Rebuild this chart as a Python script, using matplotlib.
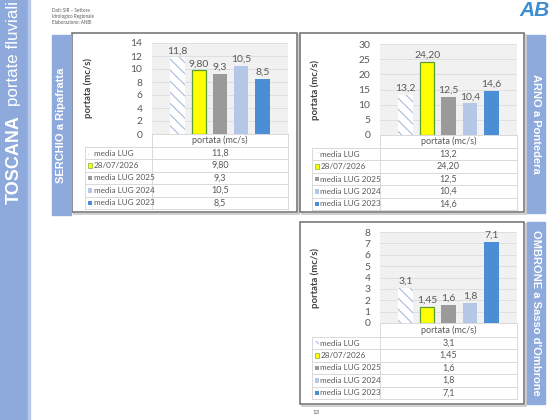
import numpy as np
import matplotlib
matplotlib.use('Agg')
import matplotlib.pyplot as plt
from matplotlib.patches import Rectangle

# Dati (portate medie in mc/s)
serie = ["media LUG", "28/07/2026", "media LUG 2025", "media LUG 2024", "media LUG 2023"]
decimali = [1, 2, 1, 1, 1]
serchio = [11.8, 9.80, 9.3, 10.5, 8.5]
arno = [13.2, 24.20, 12.5, 10.4, 14.6]
ombrone = [3.1, 1.45, 1.6, 1.8, 7.1]
stazioni = ["SERCHIO a Ripafratta", "ARNO a Pontedera", "OMBRONE a Sasso d'Ombrone"]
y_max = [14, 30, 8]
y_passo = [2, 5, 1]
categoria = "portata (mc/s)"
etichetta_y = "portata (mc/s)"

# Stile
colori = ['white', '#FFFF00', '#9A9A9A', '#B4C7E7', '#4C8ED6']
bordi = ['#A6BCDC', '#5E9A35', '#9A9A9A', '#B4C7E7', '#4C8ED6']
azzurro = '#8EA9DB'
grigio_testo = '#595959'
font_grafico = 'Lato'
font_titolo = 'Liberation Sans'
plt.rcParams['hatch.linewidth'] = 0.8

W, H = 560, 420
fig = plt.figure(figsize=(W / 100, H / 100), dpi=100)
tela = fig.add_axes([0, 0, 1, 1])
tela.set_xlim(0, W)
tela.set_ylim(H, 0)
tela.axis('off')


def fmt(v, d):
    return ('{:.%df}' % d).format(v).replace('.', ',')


def box_fig(x0, y0, x1, y1):
    return [x0 / W, 1 - y1 / H, (x1 - x0) / W, (y1 - y0) / H]


# Banda laterale con il titolo
tela.add_patch(Rectangle((0, 0), 28, H, color=azzurro, zorder=1))
tela.add_patch(Rectangle((28, 0), 1.5, H, color='#B8C9E8', zorder=1))
tela.text(14, 204, "TOSCANA", rotation=90, ha='center', va='bottom', color='white',
          fontsize=13, fontweight='bold', family=font_titolo)
tela.text(14, 106, "portate fluviali", rotation=90, ha='center', va='bottom', color='white',
          fontsize=12.2, family=font_titolo)

# Fonte dati
tela.text(52, 8, "Dati: SIR – Settore\nIdrologico Regionale\nElaborazione: ANBI", ha='left', va='top',
          fontsize=3.3, color=grigio_testo, family=font_grafico, linespacing=1.3)

# Logo (approssimato)
tela.text(535, 10, "AB", ha='center', va='center', fontsize=15, fontweight='bold',
          fontstyle='italic', color='#3C8FD3', family=font_titolo)

# Numero pagina
tela.text(316, 412, "13", ha='center', va='center', fontsize=4.5, color=grigio_testo,
          family=font_grafico)

# Geometria dei pannelli (pixel)
pannelli = [
    dict(dati=serchio, cornice=(72, 33, 297, 212), etichetta=(52, 35, 71, 215), lato='sx',
         plot=(152, 43, 288, 134), tab_x=(85, 152, 288), tab_y=(134, 147, 209), ylab_x=88),
    dict(dati=arno, cornice=(300, 33, 524, 212), etichetta=(527, 35, 545, 213), lato='dx',
         plot=(380, 44, 517, 135), tab_x=(312, 380, 517), tab_y=(135, 148, 210), ylab_x=315),
    dict(dati=ombrone, cornice=(300, 222, 524, 404), etichetta=(527, 222, 545, 404), lato='dx',
         plot=(380, 232, 517, 323), tab_x=(312, 380, 517), tab_y=(323, 337, 399), ylab_x=315),
]

x = np.arange(len(serie))
for i, p in enumerate(pannelli):
    valori = p['dati']

    # cornice e riquadro della stazione
    cx0, cy0, cx1, cy1 = p['cornice']
    tela.add_patch(Rectangle((cx0 + 1.5, cy0 + 1.5), cx1 - cx0, cy1 - cy0, fill=False,
                             ec='#C8C8C8', lw=1.2, zorder=2))
    tela.add_patch(Rectangle((cx0, cy0), cx1 - cx0, cy1 - cy0, fc='white',
                             ec='#6E6E6E', lw=1.1, zorder=3))
    ex0, ey0, ex1, ey1 = p['etichetta']
    tela.add_patch(Rectangle((ex0, ey0), ex1 - ex0, ey1 - ey0, color=azzurro, zorder=3))
    rot = 90 if p['lato'] == 'sx' else -90
    tela.text((ex0 + ex1) / 2, (ey0 + ey1) / 2, stazioni[i], rotation=rot, ha='center',
              va='center', color='white', fontsize=8.0, fontweight='bold',
              family=font_titolo, zorder=4)

    # grafico a colonne
    px0, py0, px1, py1 = p['plot']
    ax = fig.add_axes(box_fig(px0, py0, px1, py1))
    ax.set_facecolor('#F1F1F1')
    for j, v in enumerate(valori):
        if j == 0:
            ax.bar(x[j], v, width=0.68, color='white', edgecolor=bordi[j], hatch='\\\\\\',
                   linewidth=0, zorder=3)
        else:
            ax.bar(x[j], v, width=0.68, color=colori[j], edgecolor=bordi[j],
                   linewidth=0.9 if j == 1 else 0, zorder=3)
        ax.annotate(fmt(v, decimali[j]), (x[j], v), xytext=(0, 1.5), textcoords='offset points',
                    ha='center', va='bottom', fontsize=7.5, color=grigio_testo,
                    family=font_grafico, zorder=4)
    ax.set_xlim(-1.2, 5.2)
    ax.set_ylim(0, y_max[i])
    ax.set_yticks(np.arange(0, y_max[i] + 0.1, y_passo[i]))
    ax.set_yticklabels([str(int(t)) for t in ax.get_yticks()], family=font_grafico)
    ax.set_xticks([])
    ax.tick_params(axis='y', length=0, pad=7, labelsize=7.4, labelcolor=grigio_testo)
    ax.grid(axis='y', color='#DCDCDC', linewidth=0.6, zorder=0)
    for s in ax.spines.values():
        s.set_visible(False)

    tela.text(p['ylab_x'], (py0 + py1) / 2, etichetta_y, rotation=90, ha='center', va='center',
              fontsize=6.8, fontweight='bold', color='#404040', family=font_grafico, zorder=4)

    # tabella dati
    tx0, tdiv, tx1 = p['tab_x']
    hy0, hy1, tyb = p['tab_y']
    linea = dict(color='#D9D9D9', lw=0.7, zorder=4)
    tela.plot([tdiv, tx1], [hy0, hy0], **linea)
    tela.plot([tdiv, tdiv], [hy0, tyb], **linea)
    tela.plot([tx1, tx1], [hy0, tyb], **linea)
    tela.plot([tx0, tx0], [hy1, tyb], **linea)
    tela.text((tdiv + tx1) / 2, (hy0 + hy1) / 2, categoria, ha='center', va='center',
              fontsize=6.5, color=grigio_testo, family=font_grafico, zorder=5)
    altezza = (tyb - hy1) / len(serie)
    for j in range(len(serie)):
        ya = hy1 + j * altezza
        tela.plot([tx0, tx1], [ya, ya], **linea)
        yc = ya + altezza / 2
        if j == 0:
            tela.add_patch(Rectangle((tx0 + 2.5, yc - 2.2), 4.4, 4.4, fc='white', ec=bordi[j],
                                     hatch='\\\\\\\\', lw=0, zorder=5))
        else:
            tela.add_patch(Rectangle((tx0 + 2.5, yc - 2.2), 4.4, 4.4, fc=colori[j], ec=bordi[j],
                                     lw=0.4 if j == 1 else 0, zorder=5))
        tela.text(tx0 + 8.5, yc, serie[j], ha='left', va='center', fontsize=5.9,
                  color=grigio_testo, family=font_grafico, zorder=5)
        tela.text((tdiv + tx1) / 2, yc, fmt(valori[j], decimali[j]), ha='center', va='center',
                  fontsize=6.5, color=grigio_testo, family=font_grafico, zorder=5)
    tela.plot([tx0, tx1], [tyb, tyb], **linea)

fig.savefig('out.png', dpi=100)
